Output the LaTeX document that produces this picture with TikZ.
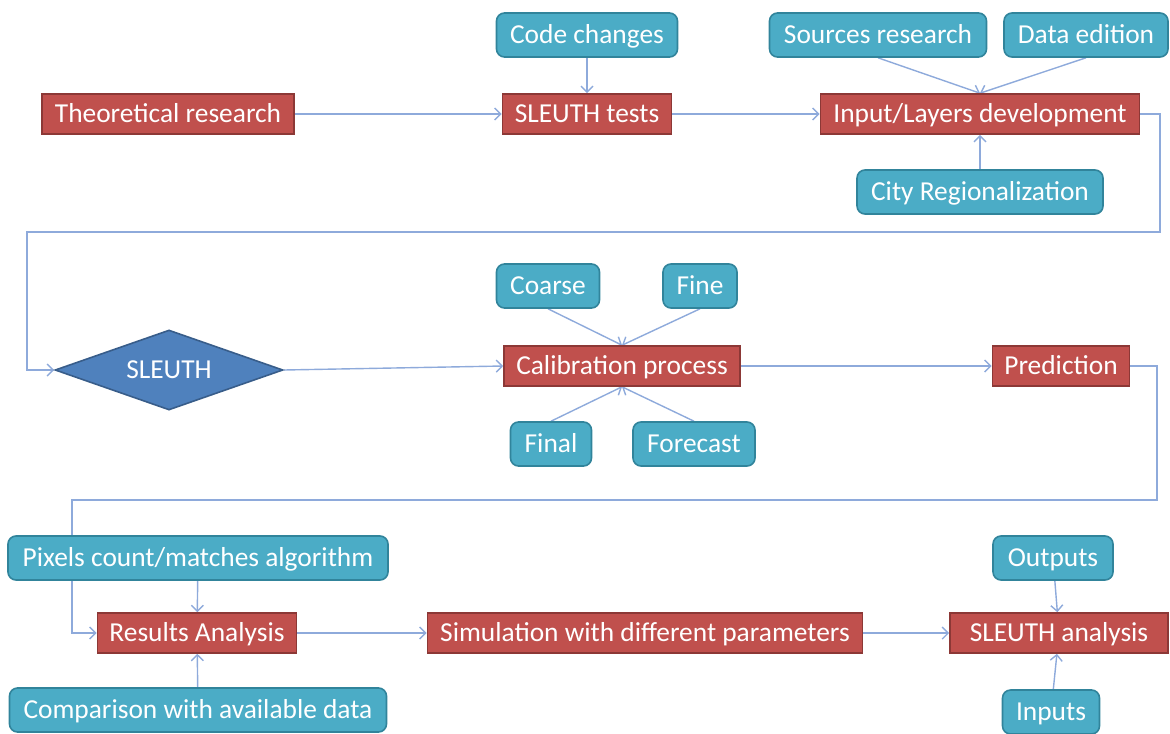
\documentclass[tikz,border=0pt]{standalone}
\usepackage{fontspec}
\setmainfont{Carlito}
\usetikzlibrary{arrows.meta, shapes.geometric, backgrounds}

\definecolor{taskred}{HTML}{C0504D}
\definecolor{taskredborder}{HTML}{8C3836}
\definecolor{subteal}{HTML}{4BACC6}
\definecolor{subtealborder}{HTML}{31849B}
\definecolor{decblue}{HTML}{4F81BD}
\definecolor{decborder}{HTML}{385D8A}
\definecolor{linkblue}{HTML}{8EAADB}

\begin{document}
\begin{tikzpicture}[
    x=0.5pt, y=-0.5pt,
    every node/.style={align=center, text=white, font=\fontsize{13.7}{15}\selectfont, text height=2.2ex, text depth=0.45ex},
    task/.style={rectangle, draw=taskredborder, fill=taskred, line width=0.8pt, minimum height=20pt, inner sep=1pt},
    sub/.style={rectangle, rounded corners=4pt, draw=subtealborder, fill=subteal, line width=0.8pt, minimum height=22pt, inner sep=1pt},
    decision/.style={diamond, aspect=2.85, draw=decborder, fill=decblue, line width=0.8pt, minimum width=114pt, minimum height=40pt, inner sep=0pt},
    link/.style={-{Straight Barb[length=3pt, width=6pt]}, linkblue, line width=0.7pt}
]
\useasboundingbox (0,0) rectangle (1170,733);

% Fila superior
\node[task, minimum width=126pt] (theory) at (168,114) {Theoretical research};
\node[task, minimum width=84.5pt] (tests) at (587,114) {SLEUTH tests};
\node[task, minimum width=159.5pt] (layers) at (980,114) {Input/Layers development};
\node[sub, minimum width=90.5pt] (code) at (587,35) {Code changes};
\node[sub, minimum width=108.5pt] (sources) at (878,35) {Sources research};
\node[sub, minimum width=82pt] (edition) at (1086,35) {Data edition};
\node[sub, minimum width=123pt] (region) at (980,192) {City Regionalization};

% Fila central
\node[decision] (sleuth) at (169,370) {SLEUTH};
\node[task, minimum width=118pt] (calib) at (622,366) {Calibration process};
\node[task, minimum width=68.5pt] (pred) at (1061,366) {Prediction};
\node[sub, minimum width=51.5pt] (coarse) at (548,286) {Coarse};
\node[sub, minimum width=37pt] (fine) at (700,286) {Fine};
\node[sub, minimum width=40.5pt] (final) at (551,444) {Final};
\node[sub, minimum width=61pt] (forecast) at (694,444) {Forecast};

% Fila inferior
\node[task, minimum width=99.5pt] (results) at (197,633) {Results Analysis};
\node[task, minimum width=217.5pt] (simul) at (645,633) {Simulation with different parameters};
\node[task, minimum width=109pt] (analysis) at (1059,633) {SLEUTH analysis};
\node[sub, minimum width=190pt] (pixels) at (198,558) {Pixels count/matches algorithm};
\node[sub, minimum width=188.5pt] (compare) at (198,710) {Comparison with available data};
\node[sub, minimum width=60pt] (outputs) at (1053,558) {Outputs};
\node[sub, minimum width=48.5pt] (inputs) at (1051,712) {Inputs};

% Esquinas de los retornos
\coordinate (r1) at (1160,232);
\coordinate (l1) at (27,232);
\coordinate (r2) at (1157,500);
\coordinate (l2) at (72,500);

\begin{scope}[on background layer]
% Conexiones
\draw[link] (theory) -- (tests);
\draw[link] (code) -- (tests);
\draw[link] (tests) -- (layers);
\draw[link] (sources.south) -- (layers.north);
\draw[link] (edition.south) -- (layers.north);
\draw[link] (region) -- (layers);
\draw[link] (layers.east) -| (r1) -- (l1) |- (sleuth.west);
\draw[link] (sleuth.east) -- (calib.west);
\draw[link] (coarse.south) -- (calib.north);
\draw[link] (fine.south) -- (calib.north);
\draw[link] (final.north) -- (calib.south);
\draw[link] (forecast.north) -- (calib.south);
\draw[link] (calib) -- (pred);
\draw[link] (pred.east) -| (r2) -- (l2) |- (results.west);
\draw[link] (pixels) -- (results);
\draw[link] (compare) -- (results);
\draw[link] (results) -- (simul);
\draw[link] (simul) -- (analysis);
\draw[link] (outputs) -- (analysis);
\draw[link] (inputs) -- (analysis);
\end{scope}

\end{tikzpicture}
\end{document}
